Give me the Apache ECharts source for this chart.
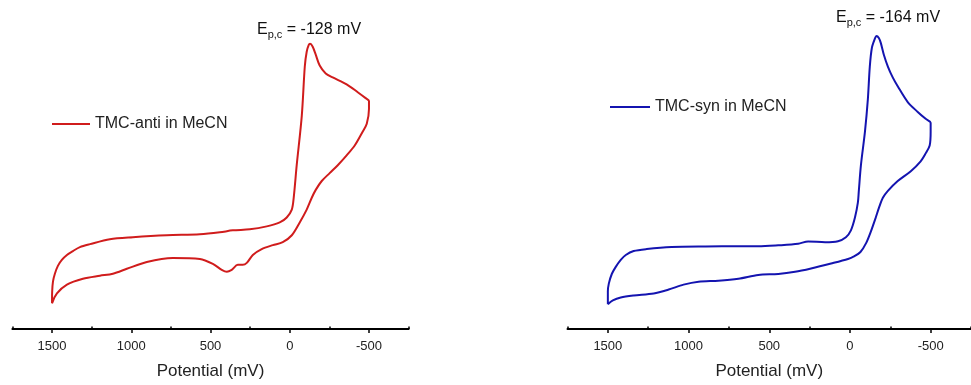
<!DOCTYPE html>
<html>
<head>
<meta charset="utf-8">
<script src="https://cdn.jsdelivr.net/npm/echarts@6/dist/echarts.min.js"></script>
<style>
html,body{margin:0;padding:0;background:#fff;}
#chart{width:971px;height:385px;}
</style>
</head>
<body>
<div id="chart"></div>
<script>
// ---- data (potential in mV, current in arbitrary units) ----
const antiPotential = [1500, 1499, 1494, 1482, 1463, 1438, 1406, 1368, 1324, 1261, 1135, 990, 776, 567, 441, 359, 252, 145, 63, 19, -13, -25,
  -44, -76, -95, -107, -120, -128, -145, -164, -189, -227, -271, -359, -429, -479, -500,
  -500, -486, -460, -410, -359, -303, -252, -202, -164, -139, -107, -63, -13, 44, 107, 177, 233, 271, 296, 328, 366, 397, 429, 485, 567, 738, 902, 1028, 1116, 1198, 1305, 1406, 1469, 1500];
const antiCurrent = [1.30, 1.90, 2.40, 2.80, 3.20, 3.50, 3.75, 3.95, 4.15, 4.30, 4.55, 4.65, 4.75, 4.80, 4.90, 5.00, 5.05, 5.20, 5.40, 5.65, 6.05, 6.65,
  8.30, 10.80, 13.30, 14.05, 14.40, 14.45, 14.30, 13.90, 13.35, 12.95, 12.75, 12.40, 12.00, 11.70, 11.55,
  11.15, 10.40, 10.00, 9.30, 8.80, 8.30, 7.90, 7.50, 7.05, 6.65, 6.05, 5.40, 4.75, 4.40, 4.25, 4.05, 3.75, 3.35, 3.25, 3.25, 3.00, 2.90, 3.00, 3.30, 3.55, 3.60, 3.40, 3.05, 2.80, 2.70, 2.55, 2.25, 1.80, 1.30];

const synPotential = [1500, 1500, 1494, 1475, 1451, 1420, 1389, 1340, 1259, 1105, 895, 691, 568, 444, 321, 259, 154, 74, 25, -6, -31, -49,
  -55, -68, -93, -111, -123, -136, -154, -164, -179, -191, -210, -235, -265, -296, -358, -420, -469, -500,
  -500, -494, -469, -438, -377, -296, -235, -204, -180, -160, -130, -100, -65, -25, 12, 117, 241, 340, 444, 568, 691, 815, 938, 1031, 1123, 1216, 1340, 1420, 1469, 1500];
const synCurrent = [1.25, 1.90, 2.30, 2.80, 3.15, 3.50, 3.75, 3.95, 4.05, 4.15, 4.18, 4.19, 4.19, 4.24, 4.32, 4.44, 4.40, 4.45, 4.65, 5.00, 5.65, 6.40,
  7.00, 8.30, 10.00, 11.65, 13.30, 14.25, 14.70, 14.85, 14.75, 14.50, 13.90, 13.30, 12.75, 12.30, 11.50, 11.00, 10.65, 10.45,
  10.00, 9.30, 8.90, 8.50, 8.00, 7.50, 7.00, 6.65, 6.15, 5.65, 4.95, 4.35, 3.90, 3.68, 3.55, 3.32, 3.07, 2.90, 2.79, 2.74, 2.55, 2.45, 2.40, 2.25, 2.00, 1.80, 1.70, 1.60, 1.45, 1.25];

const majorTicks = [1500, 1000, 500, 0, -500];
const minorTicks = [1750, 1250, 750, 250, -250, -750];
const seriesNames = ['TMC-anti in MeCN', 'TMC-syn in MeCN'];
const peakLabels = ['-128 mV', '-164 mV'];

const pair = (xs, ys) => xs.map((x, i) => [x, ys[i]]);
const FONT = 'Liberation Sans, Arial, sans-serif';

function mainAxis(gi) {
  return {
    type: 'value', gridIndex: gi, inverse: true, min: -750, max: 1750, interval: 250,
    axisLine: { show: true, onZero: false, lineStyle: { color: '#000', width: 2 } },
    axisTick: { show: true, customValues: majorTicks, length: 4, lineStyle: { color: '#000', width: 1.5 } },
    axisLabel: { show: true, customValues: majorTicks, margin: 11, fontSize: 13, color: '#222', fontFamily: FONT,
      formatter: v => String(v) },
    splitLine: { show: false },
    name: 'Potential (mV)', nameLocation: 'middle', nameGap: 34,
    nameTextStyle: { fontSize: 17, color: '#222', fontFamily: FONT }
  };
}
function minorAxis(gi) {
  return {
    type: 'value', gridIndex: gi, inverse: true, min: -750, max: 1750, interval: 250,
    axisLine: { show: false },
    axisTick: { show: true, customValues: minorTicks, length: 2.5, lineStyle: { color: '#000', width: 1.5 } },
    axisLabel: { show: false },
    splitLine: { show: false }
  };
}
function yAx(gi) {
  return { type: 'value', gridIndex: gi, min: 0, max: 15, show: false };
}
function annot(x, y, val) {
  return {
    type: 'text', left: x, top: y, z: 10,
    style: {
      text: '{e|E}{s|p,c}{t| = ' + val + '}',
      rich: {
        e: { fontSize: 16, fontFamily: FONT, fill: '#111', lineHeight: 22, verticalAlign: 'top' },
        s: { fontSize: 11, fontFamily: FONT, fill: '#111', lineHeight: 22, verticalAlign: 'top', padding: [7, 0, 0, 0] },
        t: { fontSize: 16, fontFamily: FONT, fill: '#111', lineHeight: 22, verticalAlign: 'top' }
      }
    }
  };
}

const chart = echarts.init(document.getElementById('chart'), null, { renderer: 'canvas' });
chart.setOption({
  backgroundColor: '#fff',
  animation: false,
  grid: [
    { left: 12.4, width: 396.2, top: 33, height: 300 },
    { left: 567.5, width: 406, top: 33, height: 300 }
  ],
  xAxis: [mainAxis(0), minorAxis(0), mainAxis(1), minorAxis(1)],
  yAxis: [yAx(0), yAx(1)],
  legend: [
    { data: [seriesNames[0]], left: 52, top: 116, padding: 0, icon: 'rect', itemWidth: 38, itemHeight: 2,
      textStyle: { fontSize: 16, color: '#222', fontFamily: FONT } },
    { data: [seriesNames[1]], left: 610, top: 99, padding: 0, icon: 'rect', itemWidth: 40, itemHeight: 2,
      textStyle: { fontSize: 16, color: '#222', fontFamily: FONT } }
  ],
  series: [
    { name: seriesNames[0], type: 'line', xAxisIndex: 0, yAxisIndex: 0, data: pair(antiPotential, antiCurrent),
      symbol: 'none', smooth: 0.3, lineStyle: { color: '#d01c1c', width: 2 }, itemStyle: { color: '#d01c1c' } },
    { name: seriesNames[1], type: 'line', xAxisIndex: 2, yAxisIndex: 1, data: pair(synPotential, synCurrent),
      symbol: 'none', smooth: 0.3, lineStyle: { color: '#1414b0', width: 2 }, itemStyle: { color: '#1414b0' } }
  ],
  graphic: [annot(257, 22, peakLabels[0]), annot(836, 10, peakLabels[1])]
});
</script>
</body>
</html>
